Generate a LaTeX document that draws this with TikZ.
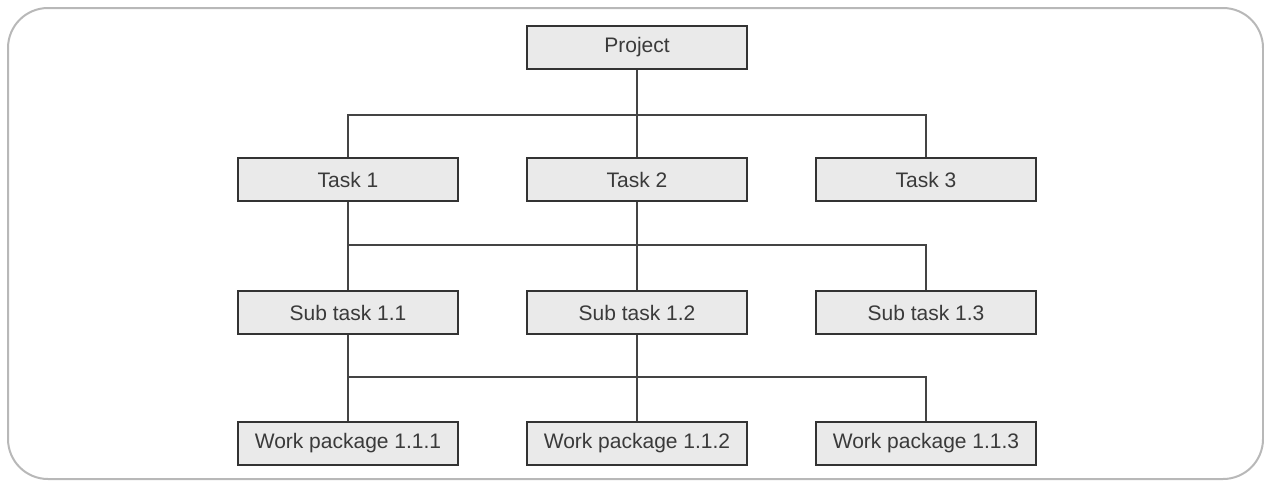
\documentclass[tikz,border=0pt]{standalone}
\usepackage{fontspec}
\setmainfont{Liberation Sans}
\definecolor{boxfill}{HTML}{EAEAEA}
\definecolor{boxline}{HTML}{333333}
\definecolor{txt}{HTML}{3A3A3A}
\definecolor{frame}{HTML}{B8B8B8}
\definecolor{conn}{HTML}{444444}
\begin{document}
\begin{tikzpicture}[x=1pt,y=-1pt,
  wbs/.style={draw=boxline, fill=boxfill, line width=2pt, minimum width=220pt, minimum height=43pt,
    inner sep=0pt, text=txt, font=\fontsize{21}{25}\selectfont},
  link/.style={draw=conn, line width=1.6pt}]
\useasboundingbox (0,0) rectangle (1264,480);
\draw[frame, line width=2pt, rounded corners=40pt] (8,8) rectangle (1263,479);

\node[wbs] (P) at (637,47.5) {Project};
\node[wbs] (T1) at (348,179.5) {Task 1};
\node[wbs] (T2) at (637,179.5) {Task 2};
\node[wbs] (T3) at (926,179.5) {Task 3};
\node[wbs] (S1) at (348,312.5) {Sub task 1.1};
\node[wbs] (S2) at (637,312.5) {Sub task 1.2};
\node[wbs] (S3) at (926,312.5) {Sub task 1.3};
\node[wbs] (W1) at (348,443) {Work package 1.1.1};
\node[wbs] (W2) at (637,443) {Work package 1.1.2};
\node[wbs] (W3) at (926,443) {Work package 1.1.3};

\coordinate (b1) at (637,115);
\coordinate (b2) at (637,245);
\coordinate (b3) at (637,377);

\draw[link] (P.south) -- (T2.north);
\draw[link] (b1) -| (T1.north);
\draw[link] (b1) -| (T3.north);

\draw[link] (T1.south) -- (S1.north);
\draw[link] (T2.south) -- (S2.north);
\draw[link] (b2) -| (S1.north);
\draw[link] (b2) -| (S3.north);

\draw[link] (S1.south) -- (W1.north);
\draw[link] (S2.south) -- (W2.north);
\draw[link] (b3) -| (W1.north);
\draw[link] (b3) -| (W3.north);
\end{tikzpicture}
\end{document}
